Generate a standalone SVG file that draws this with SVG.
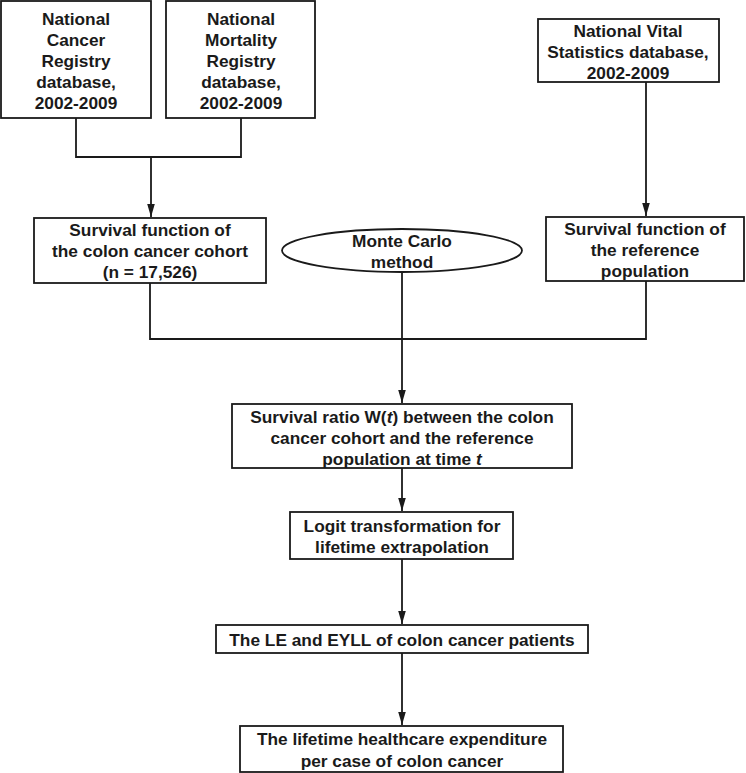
<svg xmlns="http://www.w3.org/2000/svg" width="746" height="773" viewBox="0 0 746 773">
<style>
.box{fill:#fff;stroke:#1a1a1a;stroke-width:1.8}
.t{font-family:"Liberation Sans",Arial,sans-serif;font-weight:bold;font-size:17.3px;fill:#1a1a1a;text-anchor:middle}
.c{fill:none;stroke:#1a1a1a;stroke-width:1.8}
</style>
<defs>
<marker id="ah" markerUnits="userSpaceOnUse" markerWidth="14" markerHeight="10" viewBox="0 -5 14 10" refX="13" refY="0" orient="auto">
<path d="M0,-3.8 L13,0 L0,3.8 z" fill="#1a1a1a"/>
</marker>
</defs>
<rect width="746" height="773" fill="#fff"/>
<g id="connectors">
<path class="c" d="M76,118 V157 H241 V118"/>
<path class="c" d="M151,157 V217" marker-end="url(#ah)"/>
<path class="c" d="M646,82 V216" marker-end="url(#ah)"/>
<path class="c" d="M150,283 V339 H646 V281"/>
<path class="c" d="M402,272 V403" marker-end="url(#ah)"/>
<path class="c" d="M402,468 V511" marker-end="url(#ah)"/>
<path class="c" d="M402,559 V624" marker-end="url(#ah)"/>
<path class="c" d="M402,653 V725" marker-end="url(#ah)"/>
</g>
<g id="ncr">
<rect class="box" x="1" y="1" width="150" height="117"/>
<text class="t" x="76" y="25">National</text>
<text class="t" x="76" y="46">Cancer</text>
<text class="t" x="76" y="67">Registry</text>
<text class="t" x="76" y="88">database,</text>
<text class="t" x="76" y="109">2002-2009</text>
</g>
<g id="nmr">
<rect class="box" x="166" y="1" width="149" height="117"/>
<text class="t" x="241" y="25">National</text>
<text class="t" x="241" y="46">Mortality</text>
<text class="t" x="241" y="67">Registry</text>
<text class="t" x="241" y="88">database,</text>
<text class="t" x="241" y="109">2002-2009</text>
</g>
<g id="nvs">
<rect class="box" x="538" y="19" width="181" height="63"/>
<text class="t" x="628" y="37">National Vital</text>
<text class="t" x="628" y="58">Statistics database,</text>
<text class="t" x="628" y="79">2002-2009</text>
</g>
<g id="colon-survival">
<rect class="box" x="34" y="218" width="232" height="65"/>
<text class="t" x="150" y="236">Survival function of</text>
<text class="t" x="150" y="257">the colon cancer cohort</text>
<text class="t" x="150" y="278">(n = 17,526)</text>
</g>
<g id="monte-carlo">
<ellipse class="box" cx="402" cy="250.5" rx="120" ry="21.5"/>
<text class="t" x="402" y="247">Monte Carlo</text>
<text class="t" x="402" y="268">method</text>
</g>
<g id="ref-survival">
<rect class="box" x="546" y="217" width="198" height="64"/>
<text class="t" x="645" y="235">Survival function of</text>
<text class="t" x="645" y="256">the reference</text>
<text class="t" x="645" y="277">population</text>
</g>
<g id="survival-ratio">
<rect class="box" x="232" y="404" width="340" height="64"/>
<text class="t" x="402" y="423">Survival ratio W(<tspan font-style="italic">t</tspan>) between the colon</text>
<text class="t" x="402" y="444">cancer cohort and the reference</text>
<text class="t" x="402" y="465">population at time <tspan font-style="italic">t</tspan></text>
</g>
<g id="logit">
<rect class="box" x="290" y="512" width="223" height="47"/>
<text class="t" x="402" y="532">Logit transformation for</text>
<text class="t" x="402" y="553">lifetime extrapolation</text>
</g>
<g id="le-eyll">
<rect class="box" x="216" y="625" width="372" height="28"/>
<text class="t" x="402" y="646">The LE and EYLL of colon cancer patients</text>
</g>
<g id="expenditure">
<rect class="box" x="240" y="726" width="323" height="46"/>
<text class="t" x="402" y="745">The lifetime healthcare expenditure</text>
<text class="t" x="402" y="767">per case of colon cancer</text>
</g>
</svg>
